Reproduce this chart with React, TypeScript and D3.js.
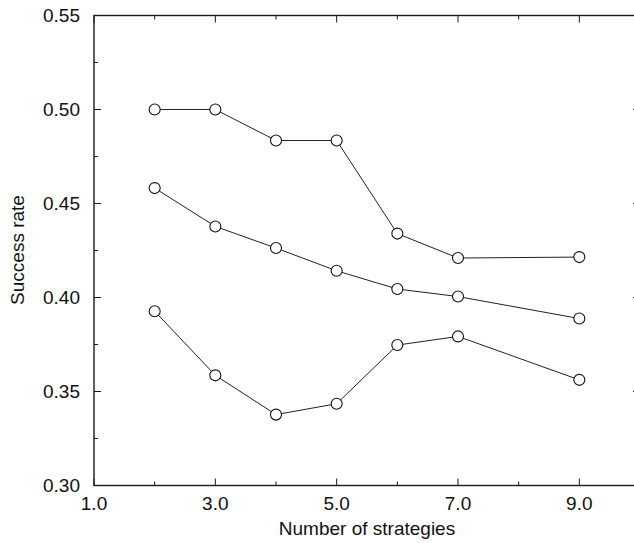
import React from "react";
import * as d3 from "d3";

const strategies = [2, 3, 4, 5, 6, 7, 9];
const seriesA = [0.5, 0.5, 0.4835, 0.4835, 0.434, 0.421, 0.4215];
const seriesB = [0.4582, 0.4378, 0.4263, 0.4142, 0.4045, 0.4005, 0.3888];
const seriesC = [0.3927, 0.3586, 0.3377, 0.3435, 0.3747, 0.3793, 0.3562];
const xTickLabels = [1, 3, 5, 7, 9];
const xMinorTicks = [2, 4, 6, 8];
const yTickLabels = [0.3, 0.35, 0.4, 0.45, 0.5, 0.55];
const yMinorTicks = [0.325, 0.375, 0.425, 0.475, 0.525];

const W = 634;
const H = 543;
const left = 94;
const right = 640;
const top = 15.5;
const bottom = 485.5;
const FONT = "'Liberation Sans', Arial, Helvetica, sans-serif";

export default function App() {
  const x = d3.scaleLinear().domain([1, 10]).range([left, right]);
  const y = d3.scaleLinear().domain([0.3, 0.55]).range([bottom, top]);
  const line = d3
    .line<number>()
    .x((_, i) => x(strategies[i]))
    .y((d) => y(d));
  const all = [seriesA, seriesB, seriesC];
  const ink = "#1a1a1a";
  return (
    <svg
      width={W}
      height={H}
      style={{ position: "absolute", left: 0, top: 0, background: "#fff" }}
    >
      <rect x={0} y={0} width={W} height={H} fill="#fff" />
      {/* frame */}
      <rect
        x={left}
        y={top}
        width={right - left}
        height={bottom - top}
        fill="none"
        stroke={ink}
        strokeWidth={1.4}
      />
      {/* x ticks */}
      {xTickLabels.map((t) => (
        <g key={"xt" + t}>
          <line x1={x(t)} x2={x(t)} y1={bottom} y2={bottom - 7} stroke={ink} strokeWidth={1} />
          <line x1={x(t)} x2={x(t)} y1={top} y2={top + 7} stroke={ink} strokeWidth={1} />
          <text
            x={x(t)}
            y={509.5}
            textAnchor="middle"
            fontFamily={FONT}
            fontSize={19}
            fill="#111"
          >
            {d3.format(".1f")(t)}
          </text>
        </g>
      ))}
      {xMinorTicks.map((t) => (
        <g key={"xm" + t}>
          <line x1={x(t)} x2={x(t)} y1={bottom} y2={bottom - 4} stroke={ink} strokeWidth={1} />
          <line x1={x(t)} x2={x(t)} y1={top} y2={top + 4} stroke={ink} strokeWidth={1} />
        </g>
      ))}
      {/* y ticks */}
      {yTickLabels.map((t) => (
        <g key={"yt" + t}>
          <line x1={left} x2={left + 7} y1={y(t)} y2={y(t)} stroke={ink} strokeWidth={1} />
          <line x1={right} x2={right - 7} y1={y(t)} y2={y(t)} stroke={ink} strokeWidth={1} />
          <text
            x={80}
            y={y(t)}
            dy="0.36em"
            textAnchor="end"
            fontFamily={FONT}
            fontSize={19}
            fill="#111"
          >
            {d3.format(".2f")(t)}
          </text>
        </g>
      ))}
      {yMinorTicks.map((t) => (
        <g key={"ym" + t}>
          <line x1={left} x2={left + 4} y1={y(t)} y2={y(t)} stroke={ink} strokeWidth={1} />
          <line x1={right} x2={right - 4} y1={y(t)} y2={y(t)} stroke={ink} strokeWidth={1} />
        </g>
      ))}
      {/* series */}
      {all.map((s, k) => (
        <g key={"s" + k}>
          <path d={line(s) || ""} fill="none" stroke="#222" strokeWidth={1} />
          {s.map((v, i) => (
            <circle
              key={i}
              cx={x(strategies[i])}
              cy={y(v)}
              r={5.5}
              fill="#fff"
              stroke="#111"
              strokeWidth={1.1}
            />
          ))}
        </g>
      ))}
      {/* axis titles */}
      <text
        x={367}
        y={535}
        textAnchor="middle"
        fontFamily={FONT}
        fontSize={19}
        fill="#111"
      >
        Number of strategies
      </text>
      <text
        transform={`translate(24,250) rotate(-90)`}
        textAnchor="middle"
        fontFamily={FONT}
        fontSize={19}
        fill="#111"
      >
        Success rate
      </text>
    </svg>
  );
}
